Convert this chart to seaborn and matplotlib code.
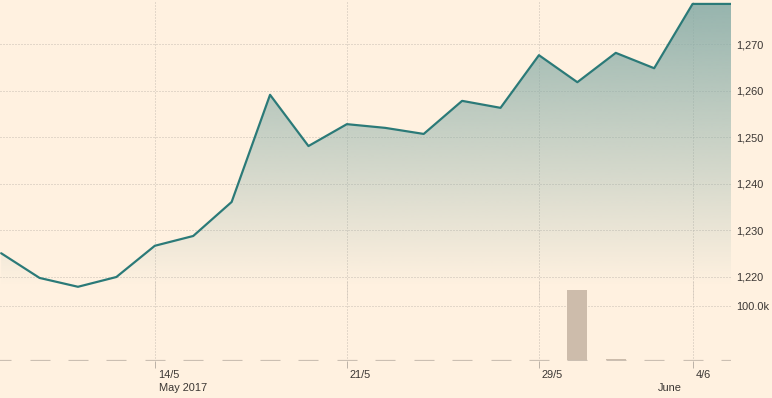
import matplotlib
matplotlib.use("Agg")
import matplotlib.pyplot as plt
import seaborn as sns
import numpy as np
import pandas as pd
from matplotlib.colors import to_rgb
from matplotlib.transforms import ScaledTranslation

# ---- data ----
dates = ["8/5", "9/5", "10/5", "11/5", "14/5", "15/5", "16/5", "17/5", "18/5",
         "21/5", "22/5", "23/5", "24/5", "25/5", "29/5", "30/5", "31/5", "1/6",
         "4/6", "5/6"]
price = [1225.1, 1219.8, 1217.9, 1220.0, 1226.7, 1228.8, 1236.1, 1259.1, 1248.1,
         1252.8, 1252.0, 1250.7, 1257.8, 1256.3, 1267.6, 1261.8, 1268.1, 1264.8,
         1278.6, 1278.6]
volume = [0, 0, 0, 0, 0, 0, 0, 0, 0, 0, 0, 0, 0, 0, 0, 129600, 2500, 0, 0, 0]
tick_dates = ["14/5", "21/5", "29/5", "4/6"]
month_labels = {"14/5": "May 2017", "1/6": "June"}
price_ticks = [1220, 1230, 1240, 1250, 1260, 1270]
volume_ticks = [100000]
volume_tick_labels = ["100.0k"]

df = pd.DataFrame({"i": np.arange(len(dates)), "date": dates,
                   "price": price, "volume": volume})

# ---- style ----
BG = "#fff1e0"
LINE = "#2b7a78"
BAR = "#cdbcab"
DASH = "#cbbfb2"
GRID = "#c9bfb4"
TXT = "#3a3633"

sns.set_theme(style="white")
plt.rcParams["font.family"] = ["Liberation Sans", "DejaVu Sans"]

DPI = 72
W, H = 772, 398
fig = plt.figure(figsize=(W / DPI, H / DPI), dpi=DPI, facecolor=BG)

plot_w = 731
ax_p = fig.add_axes([0, (H - 300) / H, plot_w / W, 300 / H])
ax_v = fig.add_axes([0, (H - 361) / H, plot_w / W, 81 / H])
ax_p.set_facecolor(BG)
ax_v.patch.set_alpha(0)

tick_pos = [dates.index(d) for d in tick_dates]
xlim = (-0.03, len(dates) - 1)

# ---- price panel ----
px_per_unit = 233 / 50.0
ytop = 1270 + 44 / px_per_unit
ybot = 1220 - 23 / px_per_unit

n = 256
rgba = np.zeros((n, 1, 4))
rgba[..., :3] = to_rgb("#86aba6")
g_top, g_bot = ytop, 1218.0
rgba[:, 0, 3] = np.linspace(0.88, 0.0, n)
im = ax_p.imshow(rgba, extent=[xlim[0], xlim[1], g_bot, g_top], aspect="auto",
                 origin="upper", zorder=1, interpolation="bilinear")
poly = ax_p.fill_between(df["i"], df["price"], ybot, facecolor="none",
                         edgecolor="none")
im.set_clip_path(poly.get_paths()[0], transform=ax_p.transData)

sns.lineplot(data=df, x="i", y="price", ax=ax_p, color=LINE, lw=2.2, zorder=3)

ax_p.set_xlim(*xlim)
ax_p.set_ylim(ybot, ytop)
ax_p.set_yticks(price_ticks)
ax_p.set_yticklabels([f"{v:,}" for v in price_ticks])
ax_p.yaxis.tick_right()
ax_p.tick_params(axis="y", length=0, pad=5, labelsize=11, labelcolor=TXT)
ax_p.set_xticks(tick_pos)
ax_p.tick_params(axis="x", length=0, labelbottom=False)
ax_p.grid(True, axis="both", color=GRID, linestyle=(0, (1, 2)), lw=1, zorder=0)
ax_p.set_xlabel("")
ax_p.set_ylabel("")
for s in ax_p.spines.values():
    s.set_visible(False)

# ---- volume panel ----
sns.barplot(data=df, x="i", y="volume", native_scale=True, width=0.52,
            color=BAR, saturation=1, ax=ax_v, zorder=2, linewidth=0,
            edgecolor="none")
ax_v.hlines(np.zeros(len(df)), df["i"] - 0.26, df["i"] + 0.26, color=DASH,
            lw=1.2, zorder=3)
vpx = 100000 / 54.0
ax_v.set_ylim(-1 * vpx, 80 * vpx)
ax_v.set_xlim(*xlim)
ax_v.set_yticks(volume_ticks)
ax_v.set_yticklabels(volume_tick_labels)
ax_v.yaxis.tick_right()
ax_v.tick_params(axis="y", length=0, pad=5, labelsize=11, labelcolor=TXT)
ax_v.set_xticks(tick_pos)
ax_v.set_xticklabels(tick_dates)
ax_v.tick_params(axis="x", length=7, width=1, color="#bdb3a8", direction="out",
                 pad=2, labelsize=11, labelcolor=TXT, bottom=True)
for lab in ax_v.get_xticklabels():
    lab.set_horizontalalignment("left")
    lab.set_transform(lab.get_transform() + ScaledTranslation(3 / DPI, 0, fig.dpi_scale_trans))
ax_v.grid(True, axis="both", color=GRID, linestyle=(0, (1, 2)), lw=1, zorder=0)
ax_v.set_xlabel("")
ax_v.set_ylabel("")
for s in ax_v.spines.values():
    s.set_visible(False)

for d, lab in month_labels.items():
    ax_v.annotate(lab, xy=(dates.index(d), 0), xycoords=("data", "axes fraction"),
                  xytext=(4, -27), textcoords="offset points", ha="left",
                  va="center", fontsize=11, color=TXT)

fig.savefig("out.png", dpi=DPI, facecolor=BG)
